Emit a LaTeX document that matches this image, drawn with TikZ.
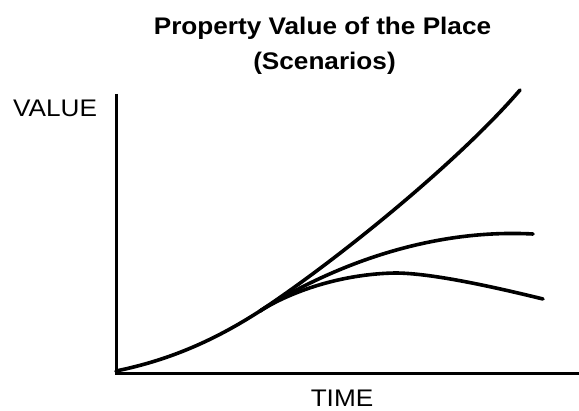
\documentclass[tikz,border=0pt]{standalone}
\usepackage{fontspec}
\newfontfamily\labfont[FakeStretch=1.09]{Liberation Sans}
\begin{document}
\begin{tikzpicture}[x=1pt,y=-1pt,
  axisline/.style={line width=3pt},
  curveline/.style={line width=3.6pt,line cap=round,line join=round},
  lbl/.style={inner sep=0pt,anchor=base,text depth=0pt,font=\labfont\fontsize{24}{28}\selectfont},
  ttl/.style={inner sep=0pt,anchor=base,font=\labfont\bfseries\fontsize{24}{28}\selectfont}]
\useasboundingbox (0,0) rectangle (579,411);
\node[ttl] (t1) at (322.5,35) {Property Value of the Place};
\node[ttl] (t2) at (324.5,70) {(Scenarios)};
\node[lbl,anchor=base west] (yl) at (13,117) {VALUE};
\node[lbl] (xl) at (342,407) {TIME};
\coordinate (ytop) at (116,94);
\coordinate (orig) at (116,375.5);
\coordinate (xstart) at (114.5,374);
\coordinate (xend) at (579,374);
\draw[axisline] (ytop) -- (orig);
\draw[axisline] (xstart) -- (xend);
% shared rising part
\coordinate (s0) at (116,371);
\coordinate (s1) at (260,311);
\draw[curveline] (s0) .. controls (170,360) and (215,340) .. (s1);
% top scenario
\coordinate (topend) at (520,90);
\draw[curveline] (s1) .. controls (340,258) and (460,160) .. (topend);
% middle scenario
\coordinate (midend) at (533,234);
\draw[curveline] (s1) .. controls (320,273) and (420,228) .. (midend);
% bottom scenario
\coordinate (botpeak) at (395,273);
\coordinate (botend) at (543,299);
\draw[curveline] (s1) .. controls (290,292) and (340,274) .. (botpeak)
  .. controls (430,273) and (490,286) .. (botend);
\end{tikzpicture}
\end{document}
